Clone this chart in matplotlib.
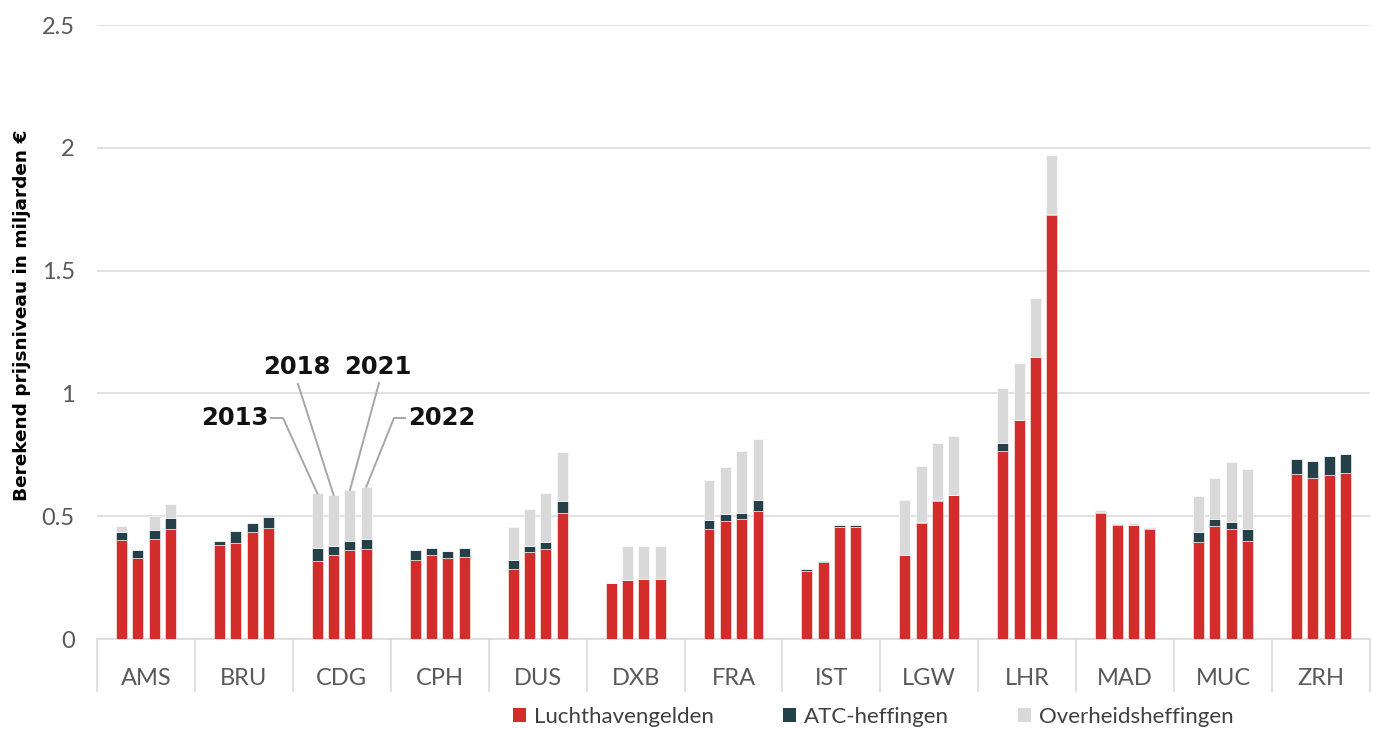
import matplotlib
matplotlib.use("Agg")
import matplotlib.pyplot as plt
import numpy as np
from matplotlib.patches import Patch

airports = ["AMS", "BRU", "CDG", "CPH", "DUS", "DXB", "FRA", "IST", "LGW", "LHR", "MAD", "MUC", "ZRH"]
years = ["2013", "2018", "2021", "2022"]

# Luchthavengelden (per airport, per year 2013/2018/2021/2022)
luchthaven = [
    [0.402, 0.329, 0.406, 0.449],
    [0.383, 0.392, 0.436, 0.452],
    [0.319, 0.341, 0.361, 0.366],
    [0.323, 0.341, 0.331, 0.334],
    [0.285, 0.354, 0.366, 0.514],
    [0.227, 0.239, 0.243, 0.243],
    [0.447, 0.482, 0.489, 0.520],
    [0.278, 0.314, 0.456, 0.456],
    [0.341, 0.474, 0.561, 0.585],
    [0.767, 0.890, 1.147, 1.726],
    [0.514, 0.463, 0.463, 0.447],
    [0.396, 0.461, 0.449, 0.400],
    [0.670, 0.657, 0.666, 0.675],
]
# ATC-heffingen
atc = [
    [0.035, 0.033, 0.039, 0.045],
    [0.016, 0.046, 0.038, 0.043],
    [0.051, 0.038, 0.037, 0.042],
    [0.039, 0.028, 0.029, 0.036],
    [0.038, 0.026, 0.028, 0.047],
    [0.000, 0.002, 0.002, 0.002],
    [0.036, 0.028, 0.025, 0.046],
    [0.006, 0.004, 0.007, 0.007],
    [0.000, 0.002, 0.003, 0.003],
    [0.031, 0.003, 0.003, 0.003],
    [0.004, 0.005, 0.003, 0.003],
    [0.038, 0.028, 0.029, 0.048],
    [0.063, 0.068, 0.080, 0.080],
]
# Overheidsheffingen
overheid = [
    [0.023, 0.000, 0.055, 0.056],
    [0.000, 0.000, 0.000, 0.000],
    [0.223, 0.207, 0.209, 0.212],
    [0.000, 0.000, 0.000, 0.000],
    [0.132, 0.148, 0.200, 0.199],
    [0.000, 0.139, 0.135, 0.135],
    [0.164, 0.189, 0.250, 0.248],
    [0.000, 0.000, 0.000, 0.000],
    [0.224, 0.228, 0.234, 0.240],
    [0.223, 0.229, 0.237, 0.243],
    [0.007, 0.003, 0.005, 0.007],
    [0.148, 0.167, 0.244, 0.243],
    [0.000, 0.000, 0.000, 0.000],
]

series_names = ["Luchthavengelden", "ATC-heffingen", "Overheidsheffingen"]
colors = ["#d22c2b", "#24414a", "#d9d9d9"]

L = np.array(luchthaven)
A = np.array(atc)
O = np.array(overheid)

fig = plt.figure(figsize=(13.73, 7.29), dpi=100)
ax = fig.add_axes([97/1373, 90/729, 1273/1373, 614/729])

n = len(airports)
offsets = (np.arange(len(years)) - 1.5) * 0.1667
width = 0.112
xc = np.arange(n)
for j in range(len(years)):
    x = xc + offsets[j]
    ax.bar(x, L[:, j], width, color=colors[0], edgecolor="white", linewidth=0.4, zorder=3)
    ax.bar(x, A[:, j], width, bottom=L[:, j], color=colors[1], edgecolor="white", linewidth=0.4, zorder=3)
    ax.bar(x, O[:, j], width, bottom=L[:, j] + A[:, j], color=colors[2], edgecolor="white", linewidth=0.4, zorder=3)

ax.set_xlim(-0.5, n - 0.5)
ax.set_ylim(0, 2.5)
ax.set_yticks([0, 0.5, 1, 1.5, 2, 2.5])
ax.set_yticklabels(["0", "0.5", "1", "1.5", "2", "2.5"])
ax.yaxis.grid(True, color="#d9d9d9", linewidth=1.1, zorder=0)
ax.set_axisbelow(True)
for s in ["top", "right", "left"]:
    ax.spines[s].set_visible(False)
ax.spines["bottom"].set_color("#d9d9d9")
ax.spines["bottom"].set_linewidth(1.1)

ax.tick_params(axis="y", length=0, pad=16, labelsize=17, labelcolor="#595959")
for t in ax.get_yticklabels():
    t.set_fontfamily("Lato")

# x: major ticks at boundaries (separator lines), minor ticks at centers with labels
ax.set_xticks(np.arange(-0.5, n, 1.0))
ax.set_xticklabels([])
ax.tick_params(axis="x", which="major", length=38, width=1.1, color="#d9d9d9")
ax.set_xticks(xc, minor=True)
ax.set_xticklabels(airports, minor=True)
ax.tick_params(axis="x", which="minor", length=0, pad=21, labelsize=17, labelcolor="#595959")
for t in ax.get_xticklabels(minor=True):
    t.set_fontfamily("Lato")

fig.text(22/1373, 1 - 315/729, "Berekend prijsniveau in miljarden €", rotation=90,
         ha="center", va="center", fontsize=13.3, fontweight="bold", family="DejaVu Sans")

# annotations for CDG year bars
cdg = airports.index("CDG")
tops = L[cdg] + A[cdg] + O[cdg]
fig.canvas.draw()
inv = ax.transData.inverted()

line_kw = dict(color="#a6a6a6", linewidth=1.4, zorder=5, clip_on=False)
txt_kw = dict(fontsize=17.5, fontweight="bold", family="DejaVu Sans", color="#111111")

def px2d(px, py):
    return inv.transform((px, 729 - py))

# 2013
bx, by = cdg + offsets[0], tops[0]
p1 = px2d(283, 418); p0 = px2d(271, 418)
ax.plot([p0[0], p1[0], bx], [p0[1], p1[1], by], **line_kw)
ax.annotate("2013", xy=p0, xytext=(-2, 0), textcoords="offset points", ha="right", va="center", annotation_clip=False, **txt_kw)
# 2018
bx, by = cdg + offsets[1], tops[1]
p0 = px2d(298, 384)
ax.plot([p0[0], bx], [p0[1], by], **line_kw)
ax.annotate("2018", xy=px2d(297, 367), ha="center", va="center", annotation_clip=False, **txt_kw)
# 2021
bx, by = cdg + offsets[2], tops[2]
p0 = px2d(379, 383)
ax.plot([p0[0], bx], [p0[1], by], **line_kw)
ax.annotate("2021", xy=px2d(378, 367), ha="center", va="center", annotation_clip=False, **txt_kw)
# 2022
bx, by = cdg + offsets[3], tops[3]
p0 = px2d(405, 418); p1 = px2d(394, 418)
ax.plot([p0[0], p1[0], bx], [p0[1], p1[1], by], **line_kw)
ax.annotate("2022", xy=p0, xytext=(2, 0), textcoords="offset points", ha="left", va="center", annotation_clip=False, **txt_kw)

handles = [Patch(facecolor=c, edgecolor="none") for c in colors]
leg = fig.legend(handles, series_names, loc="center", bbox_to_anchor=(873/1373, 12/729),
                 ncol=3, frameon=False, handlelength=0.6, handleheight=0.6,
                 handletextpad=0.35, columnspacing=3.1,
                 prop={"family": "Lato", "size": 16})
for t in leg.get_texts():
    t.set_color("#404040")

fig.savefig("out.png", dpi=100)
